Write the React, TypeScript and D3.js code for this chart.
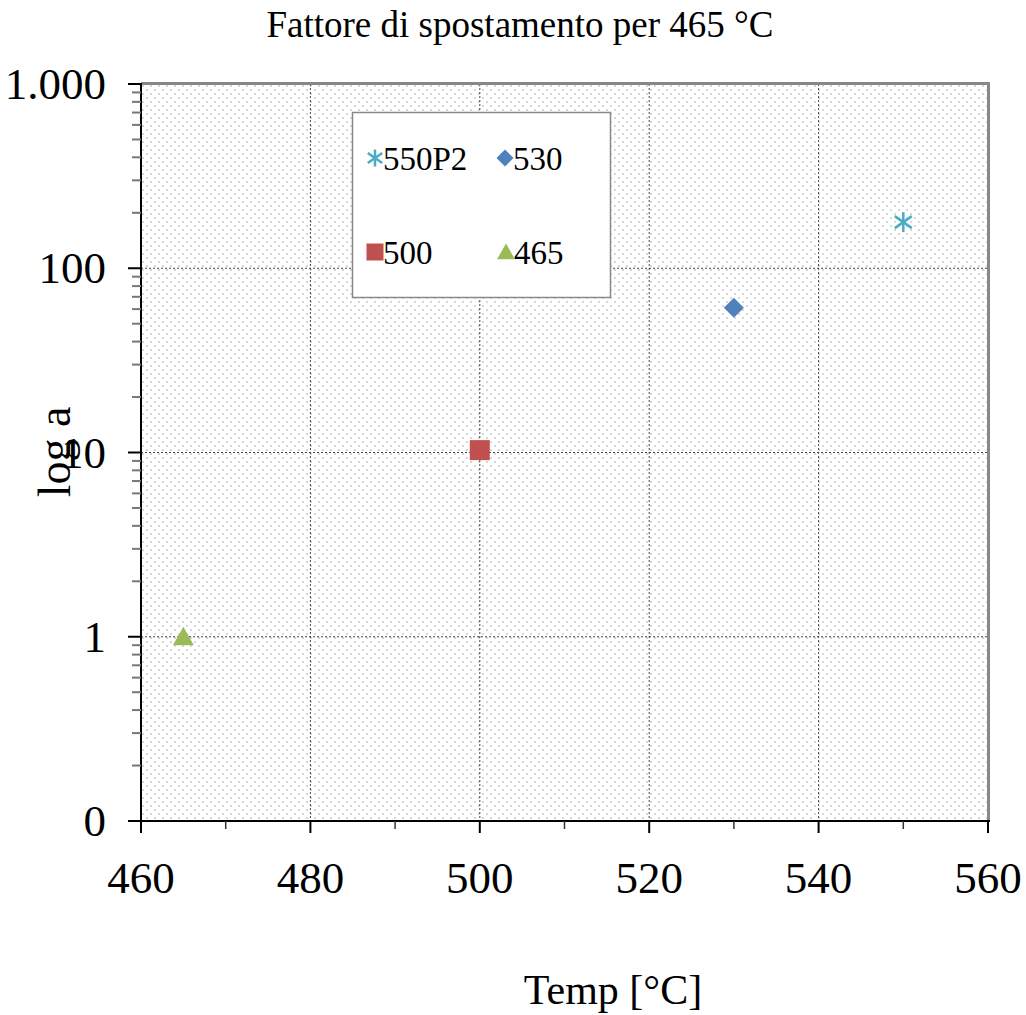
import React from "react";
import * as d3 from "d3";

// Series: shift factor a at each reference temperature
const seriesNames = ["550P2", "530", "500", "465"];
const seriesTemps = [550, 530, 500, 465];
const seriesShift = [178, 61, 10.3, 1];
const seriesColors = ["#4bacc6", "#4f81bd", "#c0504d", "#9bbb59"];
const seriesSymbols = ["asterisk", "diamond", "square", "triangle"];

const xTicks = [460, 480, 500, 520, 540, 560];
const xMinorTicks = [470, 490, 510, 530, 550];
const yTicks = [0.1, 1, 10, 100, 1000];
const yTickLabels = ["0", "1", "10", "100", "1.000"];

const W = 1026;
const H = 1015;
const left = 141;
const right = 988;
const top = 84;
const bottom = 821;

const x = d3.scaleLinear().domain([460, 560]).range([left, right]);
const y = d3.scaleLog().domain([0.1, 1000]).range([bottom, top]);

const yMinor: number[] = [];
for (let e = -1; e < 3; e++) {
  for (let m = 2; m <= 9; m++) yMinor.push(m * Math.pow(10, e));
}

function Marker({ kind, cx, cy, color, size }: { kind: string; cx: number; cy: number; color: string; size: number }) {
  const h = size / 2;
  if (kind === "square") {
    return <rect x={cx - h} y={cy - h} width={size} height={size} fill={color} />;
  }
  if (kind === "diamond") {
    const r = h * 1.0;
    return <path d={`M${cx},${cy - r}L${cx + r},${cy}L${cx},${cy + r}L${cx - r},${cy}Z`} fill={color} />;
  }
  if (kind === "triangle") {
    return <path d={`M${cx},${cy - h}L${cx + h * 1.05},${cy + h * 0.85}L${cx - h * 1.05},${cy + h * 0.85}Z`} fill={color} />;
  }
  const a = h;
  const d = a * 0.6;
  return (
    <g stroke={color} strokeWidth={2.5}>
      <line x1={cx} y1={cy - a} x2={cx} y2={cy + a} />
      <line x1={cx - a * 0.85} y1={cy - d} x2={cx + a * 0.85} y2={cy + d} />
      <line x1={cx - a * 0.85} y1={cy + d} x2={cx + a * 0.85} y2={cy - d} />
    </g>
  );
}

export default function App() {
  const font = "'Liberation Serif', 'Times New Roman', serif";
  const legendPos = [
    [375, 158],
    [505, 158],
    [375, 252],
    [506, 252],
  ];
  return (
    <svg width={W} height={H} style={{ position: "absolute", left: 0, top: 0 }} fontFamily={font}>
      <defs>
        <pattern id="dots" width={8} height={8} patternUnits="userSpaceOnUse" x={left} y={top}>
          <rect width={8} height={8} fill="#fff" />
          <circle cx={2} cy={2} r={0.9} fill="#c4c4c4" />
          <circle cx={6} cy={6} r={0.9} fill="#c4c4c4" />
        </pattern>
      </defs>
      <rect width={W} height={H} fill="#fff" />
      <text x={520} y={37} textAnchor="middle" fontSize={37}>
        Fattore di spostamento per 465 °C
      </text>

      <rect x={left} y={top} width={right - left} height={bottom - top} fill="url(#dots)" />

      {/* gridlines */}
      {xTicks.slice(1, -1).map((t) => (
        <line key={"gx" + t} x1={x(t)} x2={x(t)} y1={top} y2={bottom} stroke="#444" strokeWidth={1} strokeDasharray="2,2" />
      ))}
      {yTicks.slice(1, -1).map((t) => (
        <line key={"gy" + t} x1={left} x2={right} y1={y(t)} y2={y(t)} stroke="#444" strokeWidth={1} strokeDasharray="2,2" />
      ))}

      {/* frame */}
      <line x1={left} x2={right + 1} y1={top - 0.5} y2={top - 0.5} stroke="#888" strokeWidth={3} />
      <line x1={right + 0.5} x2={right + 0.5} y1={top - 2} y2={bottom} stroke="#888" strokeWidth={3} />

      {/* y axis */}
      <line x1={left} x2={left} y1={top - 1} y2={bottom + 1} stroke="#000" strokeWidth={2} />
      {yMinor.map((t) => (
        <line key={"ym" + t} x1={left - 9} x2={left} y1={y(t)} y2={y(t)} stroke="#777" strokeWidth={2} />
      ))}
      {yTicks.map((t, i) => (
        <g key={"yt" + t}>
          <line x1={left - 13} x2={left} y1={y(t)} y2={y(t)} stroke="#000" strokeWidth={2} />
          <text x={106} y={y(t) + 15} textAnchor="end" fontSize={45}>
            {yTickLabels[i]}
          </text>
        </g>
      ))}

      {/* x axis */}
      <line x1={left - 1} x2={right + 2} y1={bottom} y2={bottom} stroke="#000" strokeWidth={2} />
      {xMinorTicks.map((t) => (
        <line key={"xm" + t} x1={x(t)} x2={x(t)} y1={bottom} y2={bottom + 8} stroke="#333" strokeWidth={1.5} />
      ))}
      {xTicks.map((t) => (
        <g key={"xt" + t}>
          <line x1={x(t)} x2={x(t)} y1={bottom} y2={bottom + 12} stroke="#000" strokeWidth={2} />
          <text x={x(t)} y={bottom + 72} textAnchor="middle" fontSize={45}>
            {t}
          </text>
        </g>
      ))}

      <text x={613} y={1004} textAnchor="middle" fontSize={42}>
        Temp [°C]
      </text>
      <text transform={`translate(70,452) rotate(-90)`} textAnchor="middle" fontSize={46}>
        log a
      </text>

      {/* data points */}
      {seriesNames.map((n, i) => (
        <Marker key={"p" + n} kind={seriesSymbols[i]} cx={x(seriesTemps[i])} cy={y(seriesShift[i])} color={seriesColors[i]} size={20} />
      ))}

      {/* legend */}
      <rect x={352.5} y={112.5} width={258} height={185} fill="#fff" stroke="#888" strokeWidth={1.5} />
      {seriesNames.map((n, i) => (
        <g key={"l" + n}>
          <Marker kind={seriesSymbols[i]} cx={legendPos[i][0]} cy={legendPos[i][1]} color={seriesColors[i]} size={17} />
          <text x={legendPos[i][0] + 8} y={legendPos[i][1] + 12} fontSize={33}>
            {n}
          </text>
        </g>
      ))}
    </svg>
  );
}
